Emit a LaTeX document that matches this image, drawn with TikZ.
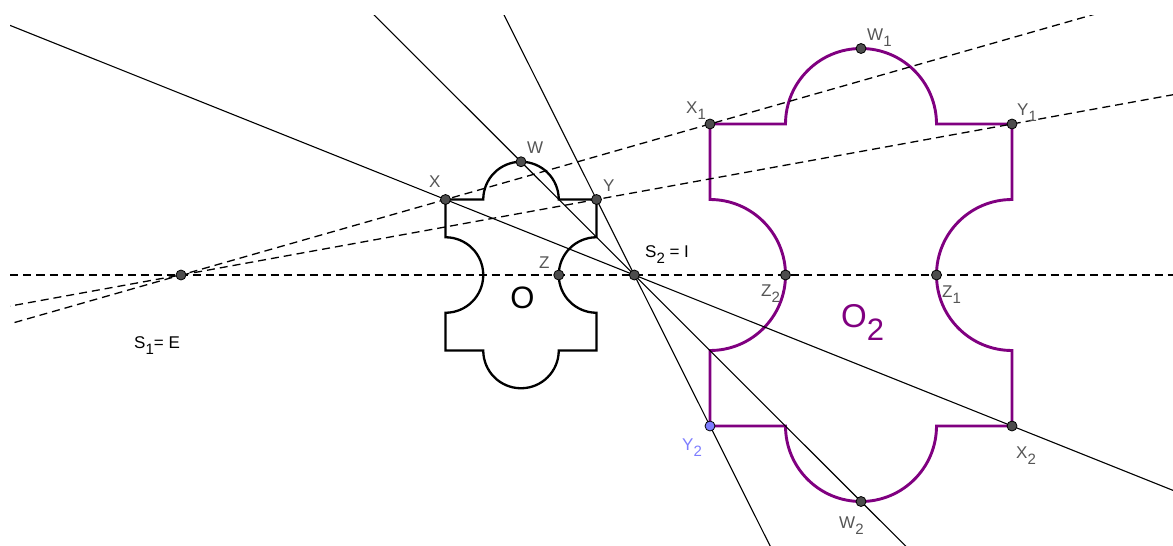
\documentclass[tikz,border=0pt]{standalone}
\usepackage{fontspec}
\setmainfont{Liberation Sans}
\usetikzlibrary{calc}
\definecolor{ggpurple}{RGB}{128,0,128}
\definecolor{ptfill}{RGB}{77,77,77}
\definecolor{lbl}{RGB}{85,85,85}
\definecolor{ptblue}{RGB}{125,125,255}
\newcommand\lsub[2][15]{\raisebox{-0.4em}{\fontsize{#1}{#1}\selectfont #2}}
\begin{document}
\begin{tikzpicture}[x=1pt,y=1pt,
  pt/.style={circle,draw=black,fill=ptfill,line width=0.8pt,inner sep=0pt,minimum size=10pt},
  lab/.style={anchor=base west,inner sep=0pt,text=lbl,font=\fontsize{17}{17}\selectfont},
  blk/.style={lab,text=black},
  solidline/.style={line width=1.1pt,black},
  dashline/.style={line width=1.3pt,black,dash pattern=on 8pt off 5pt},
  puzzle/.pic={
    \draw[pic actions,line join=miter] (-1,1) -- (-0.5,1) arc[start angle=180,end angle=0,radius=0.5]
      -- (1,1) -- (1,0.5) arc[start angle=90,end angle=270,radius=0.5]
      -- (1,-1) -- (0.5,-1) arc[start angle=0,end angle=-180,radius=0.5]
      -- (-1,-1) -- (-1,-0.5) arc[start angle=-90,end angle=90,radius=0.5] -- cycle;
  }
]
\useasboundingbox (0,0) rectangle (1173,-546);

% key points
\coordinate (c)  at (521,-275);
\coordinate (c2) at (861,-275);
\coordinate (I)  at (634.33,-275);
\coordinate (E)  at (181,-275);
\coordinate (X)  at (445.5,-199.5);
\coordinate (Y)  at (596.5,-199.5);
\coordinate (W)  at (521,-161.75);
\coordinate (Z)  at (558.75,-275);
\coordinate (X1) at (710,-124);
\coordinate (Y1) at (1012,-124);
\coordinate (W1) at (861,-48.5);
\coordinate (Z1) at (936.5,-275);
\coordinate (Z2) at (785.5,-275);
\coordinate (X2) at (1012,-426);
\coordinate (Y2) at (710,-426);
\coordinate (W2) at (861,-501.5);

% shapes
\pic[draw=black,line width=2.3pt,scale=75.5] at (c) {puzzle};
\pic[draw=ggpurple,line width=2.9pt,scale=151] at (c2) {puzzle};

% lines
\begin{scope}
  \clip (10,-15) rectangle (1173,-546);
  \coordinate (sa) at ($(I)!4!(X)$);
  \coordinate (sb) at ($(I)!4!(X2)$);
  \coordinate (sc) at ($(I)!4!(W)$);
  \coordinate (sd) at ($(I)!4!(W2)$);
  \coordinate (se) at ($(I)!4!(Y)$);
  \coordinate (sf) at ($(I)!4!(Y2)$);
  \draw[solidline] (sa) -- (sb);
  \draw[solidline] (sc) -- (sd);
  \draw[solidline] (se) -- (sf);
  \coordinate (da) at ($(E)!-1!(Z1)$);
  \coordinate (db) at ($(E)!2!(Z1)$);
  \coordinate (dc) at ($(E)!-1!(X1)$);
  \coordinate (dd) at ($(E)!2.5!(X1)$);
  \coordinate (de) at ($(E)!-1!(Y1)$);
  \coordinate (df) at ($(E)!2.5!(Y1)$);
  \draw[dashline] (da) -- (db);
  \draw[dashline] (dc) -- (dd);
  \draw[dashline] (de) -- (df);
\end{scope}

% point markers
\node[pt] (pE)  at (E)  {};
\node[pt] (pI)  at (I)  {};
\node[pt] (pX)  at (X)  {};
\node[pt] (pY)  at (Y)  {};
\node[pt] (pW)  at (W)  {};
\node[pt] (pZ)  at (Z)  {};
\node[pt] (pX1) at (X1) {};
\node[pt] (pY1) at (Y1) {};
\node[pt] (pW1) at (W1) {};
\node[pt] (pZ1) at (Z1) {};
\node[pt] (pZ2) at (Z2) {};
\node[pt] (pX2) at (X2) {};
\node[pt] (pW2) at (W2) {};
\node[pt,fill=ptblue] (pY2) at (Y2) {};

% labels
\node[lab] (lW) at (527,-153) {W};
\node[lab] (lX) at (429,-187) {X};
\node[lab] (lY) at (603,-191) {Y};
\node[lab] (lZ) at (539,-268) {Z};
\node[blk] (lI) at (645,-257) {S\lsub{2} = I};
\node[blk,anchor=base,font=\fontsize{31}{31}\selectfont] (lO) at (522.5,-308) {O};
\node[blk] (lE) at (134,-348) {S\lsub{1}= E};
\node[lab] (lW1) at (867,-40) {W\lsub{1}};
\node[lab] (lX1) at (686,-113) {X\lsub{1}};
\node[lab] (lY1) at (1017,-115) {Y\lsub{1}};
\node[lab] (lZ2) at (761,-296) {Z\lsub{2}};
\node[lab] (lZ1) at (942,-297) {Z\lsub{1}};
\node[lab,text=ggpurple,font=\fontsize{33}{33}\selectfont] (lO2) at (841,-327) {O\lsub[31]{2}};
\node[lab,text=ptblue] (lY2) at (682,-450) {Y\lsub{2}};
\node[lab] (lX2) at (1016,-458) {X\lsub{2}};
\node[lab] (lW2) at (839,-528) {W\lsub{2}};
\end{tikzpicture}
\end{document}
